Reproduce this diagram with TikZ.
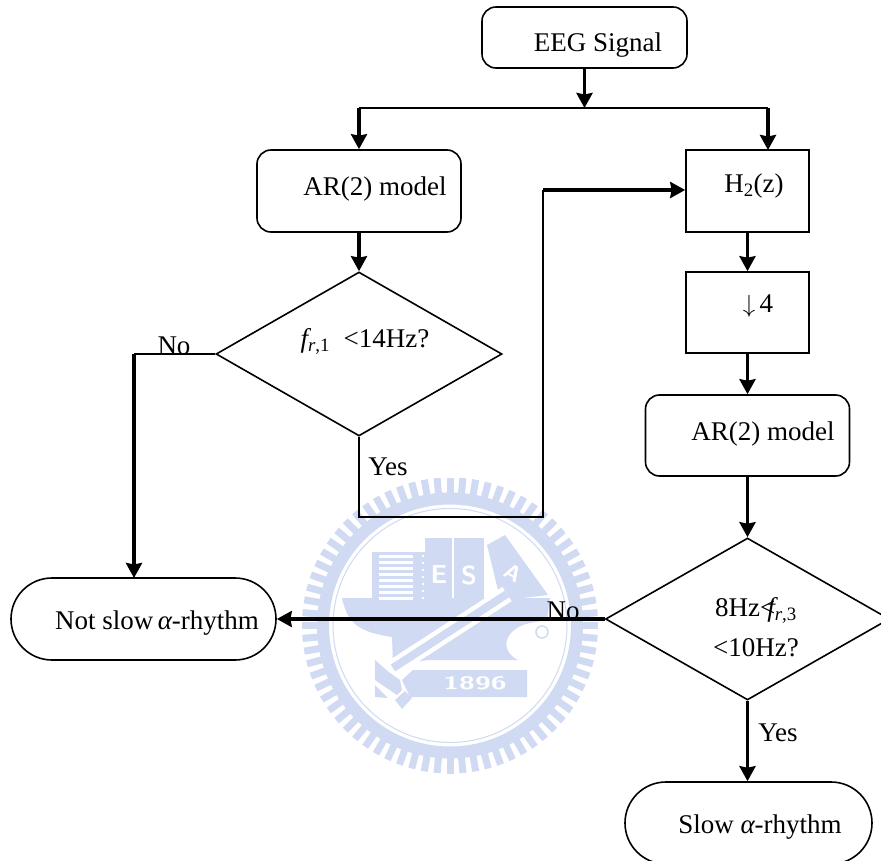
\documentclass[tikz,border=0pt]{standalone}
\usepackage{fontspec}
\setmainfont{Liberation Serif}
\usepackage{xcolor}
\usetikzlibrary{arrows.meta, shapes.geometric}
\definecolor{sello}{RGB}{208,218,242}
\newcommand{\fsub}[1]{{\itshape f}\textsubscript{\itshape r\upshape ,#1}}
\newcommand{\galpha}{{\itshape α}}
\tikzset{
  base/.style={draw, line width=1.6pt, inner sep=0pt},
  block/.style={base, rectangle},
  roundblock/.style={base, rectangle, rounded corners=14pt},
  pill/.style={base, rectangle, rounded corners=41pt},
  decision/.style={base, diamond},
  tag/.style={inner sep=0pt, font=\fontsize{27}{40}\selectfont, align=center},
  wire/.style={line width=1.8pt},
  flow/.style={line width=3.5pt, -{Stealth[length=15pt, width=16pt, inset=1.5pt]}},
  mark white/.style={inner sep=0pt, white}
}
\begin{document}
\begin{tikzpicture}[x=1pt, y=-1pt]
  \clip (0,0) rectangle (881,861);
  \fill[white] (0,0) rectangle (881,861);
  % seal behind the chart
  \foreach \a in {0,5,...,355}
    \draw[sello, line width=7pt] (450,625.5) ++(\a:130) -- ++(\a:18);
  \draw[sello, line width=12pt] (450,625.5) circle[radius=127];
  \draw[sello, line width=1pt] (450,625.5) circle[radius=117];
  \fill[sello] (372,552) rectangle (425,598);
  \fill[sello] (425,538) rectangle (452,598);
  \fill[sello] (454,538) rectangle (484,598);
  \fill[sello] (487,545) -- (505,535) -- (548,595) -- (505,600) -- (498,590) -- cycle;
  \fill[sello] (342,598) -- (550,598) -- (547,620) -- (530,623)
    .. controls (505,628) and (498,650) .. (518,660) -- (428,660) -- (393,665) -- (392,637)
    .. controls (360,632) and (348,625) .. (342,598) -- cycle;
  \foreach \y in {555,561,...,597}
    \fill[white] (379,\y) rectangle (413,\y+3);
  \foreach \y in {555,562,...,597}
    \fill[white] (422,\y) rectangle (424,\y+2);
  \draw[white, line width=17pt] (507,594) -- (393,668);
  \draw[sello, line width=8pt] (507,594) -- (393,668);
  \fill[sello] (375,660) -- (390,673) -- (400,680) -- (402,690) -- (397,695) -- (375,680) -- cycle;
  \fill[sello] (375,685) -- (388,698) -- (375,697) -- cycle;
  \fill[sello] (395,700) -- (405,691) -- (412,698) -- (402,709) -- cycle;
  \fill[sello] (402,680) -- (413,670) -- (527,670) -- (527,697) -- (410,697) -- cycle;
  \draw[sello, line width=1.5pt] (542,632) circle[radius=6];
  \node[mark white, font=\sffamily\bfseries\fontsize{26}{26}\selectfont] (markE) at (439,575) {E};
  \node[mark white, font=\sffamily\bfseries\fontsize{26}{26}\selectfont] (markS) at (469,575) {S};
  \node[mark white, font=\sffamily\bfseries\fontsize{22}{22}\selectfont, rotate=-30] (markA) at (513,573) {A};
  \node[mark white, font=\sffamily\bfseries\fontsize{18}{18}\selectfont, xscale=1.6] (markyear) at (475,683) {1896};

  % blocks
  \node[roundblock, minimum width=205pt, minimum height=61pt] (eeg) at (584.5,37.5) {};
  \node[roundblock, minimum width=204pt, minimum height=82pt] (arone) at (359,191) {};
  \node[block, minimum width=123pt, minimum height=82pt] (htwo) at (747.5,191) {};
  \node[block, minimum width=123pt, minimum height=81pt] (down) at (747.5,312.5) {};
  \node[roundblock, minimum width=204pt, minimum height=81pt] (artwo) at (747.5,435.5) {};
  \node[decision, minimum width=286pt, minimum height=164pt] (testone) at (359,354) {};
  \node[decision, minimum width=284pt, minimum height=162pt] (testtwo) at (747.5,619) {};
  \node[pill, minimum width=265pt, minimum height=82pt] (notslow) at (143.5,619) {};
  \node[pill, minimum width=247pt, minimum height=82pt] (slow) at (748.5,823) {};

  % texts
  \node[tag] (eegtext) at (598,45) {EEG Signal};
  \node[tag] (aronetext) at (375,189) {AR(2) model};
  \node[tag] (htwotext) at (754,186) {H\textsubscript{2}(z)};
  \node[tag] (downtext) at (758,306) {$\downarrow$\,4};
  \node[tag] (artwotext) at (763,434) {AR(2) model};
  \node[tag] (testonetext) at (365,341) {\fsub{1}\ \ <14Hz?};
  \node[tag] (testtwotext) at (756,627) {8Hz<\kern-.3em\fsub{3}\\<10Hz?};
  \node[tag] (notslowtext) at (157,623) {Not slow\,\galpha-rhythm};
  \node[tag] (slowtext) at (760,827) {Slow \galpha-rhythm};
  \node[tag] (nol) at (174,346) {No};
  \node[tag] (yesl) at (388,467) {Yes};
  \node[tag] (nor) at (563,611) {No};
  \node[tag] (yesr) at (778,733) {Yes};

  % connectors
  \coordinate (split) at (584.5,108);
  \coordinate (splitl) at (359,108);
  \coordinate (splitr) at (768,108);
  \coordinate (htwotop) at (768,150);
  \coordinate (lowl) at (359,517);
  \coordinate (lowr) at (543,517);
  \coordinate (upr) at (543,190);
  \coordinate (nocorner) at (134,354);
  \coordinate (nodrop) at (134,578);
  \draw[flow] (eeg.south) -- (split);
  \draw[wire] (splitl) -- (splitr);
  \draw[flow] (splitl) -- (arone.north);
  \draw[flow] (splitr) -- (htwotop);
  \draw[flow] (arone.south) -- (testone.north);
  \draw[flow] (htwo.south) -- (down.north);
  \draw[flow] (down.south) -- (artwo.north);
  \draw[flow] (artwo.south) -- (testtwo.north);
  \draw[flow] (testtwo.south) -- (testtwo.south |- slow.north);
  \draw[flow] (testtwo.west) -- (notslow.east);
  \draw[wire] (testone.west) -- (nocorner);
  \draw[flow] (nocorner) -- (nodrop);
  \draw[wire] (testone.south) -- (lowl) -- (lowr) -- (upr);
  \draw[flow] (upr) -- (htwo.west |- upr);
\end{tikzpicture}
\end{document}
